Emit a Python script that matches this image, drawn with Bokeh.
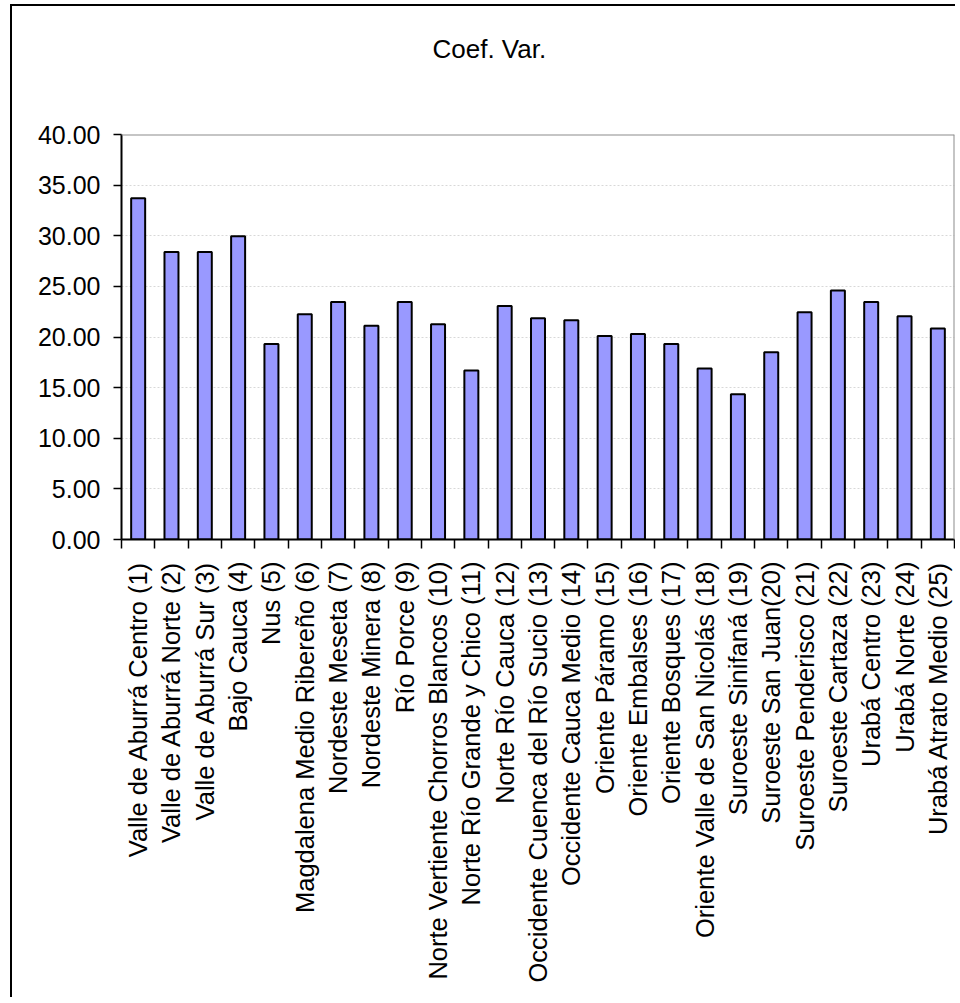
import math
from bokeh.plotting import figure
from bokeh.models import (Range1d, FixedTicker, PrintfTickFormatter, Span, Title,
                          ColumnDataSource)
from bokeh.embed import file_html
from bokeh.resources import INLINE

regions = [
    "Valle de Aburrá Centro (1)", "Valle de Aburrá Norte (2)", "Valle de Aburrá Sur (3)",
    "Bajo Cauca (4)", "Nus (5)", "Magdalena Medio Ribereño (6)", "Nordeste Meseta (7)",
    "Nordeste Minera (8)", "Río Porce (9)", "Norte Vertiente Chorros Blancos (10)",
    "Norte Río Grande y Chico (11)", "Norte Río Cauca (12)",
    "Occidente Cuenca del Río Sucio (13)", "Occidente Cauca Medio (14)",
    "Oriente Páramo (15)", "Oriente Embalses (16)", "Oriente Bosques (17)",
    "Oriente Valle de San Nicolás (18)", "Suroeste Sinifaná (19)", "Suroeste San Juan(20)",
    "Suroeste Penderisco (21)", "Suroeste Cartaza (22)", "Urabá Centro (23)",
    "Urabá Norte (24)", "Urabá Atrato Medio (25)",
]
coef_var = [33.7, 28.4, 28.4, 29.95, 19.3, 22.25, 23.45, 21.1, 23.45, 21.25,
            16.7, 23.05, 21.85, 21.65, 20.1, 20.3, 19.3, 16.9, 14.35, 18.5,
            22.45, 24.6, 23.45, 22.05, 20.85]
y_ticks = [0, 5, 10, 15, 20, 25, 30, 35, 40]
title_text = "Coef. Var."

FONT = "Liberation Sans"
n = len(regions)
idx = list(range(n))
src = ColumnDataSource(dict(x=idx, top=coef_var))

p = figure(frame_width=833, frame_height=405,
           x_range=Range1d(-0.5, n - 0.5), y_range=Range1d(y_ticks[0], y_ticks[-1]),
           output_backend="svg", toolbar_location=None,
           min_border_left=109, min_border_right=1, min_border_top=128,
           min_border_bottom=458)
p.styles = {"margin-left": "10px", "margin-top": "4px",
            "border-left": "2px solid black", "border-top": "2px solid black"}
p.outline_line_color = None
p.background_fill_color = "white"
p.border_fill_color = "white"

# blank spacer panel between the plot area and the title
p.add_layout(Title(text=" ", text_font_size="10px", standoff=58), "above")
p.add_layout(Title(text=title_text, align="left", offset=311, standoff=0,
                   text_font_size="26px", text_font=FONT, text_font_style="normal",
                   text_color="black"), "above")

p.vbar(x="x", top="top", width=0.42, source=src, fill_color="#9999ff",
       line_color="black", line_width=2)

# plot-area border (gray, top and right)
p.add_layout(Span(location=y_ticks[-1], dimension="width", line_color="#8c8c8c", line_width=2))
p.add_layout(Span(location=n - 0.5, dimension="height", line_color="#8c8c8c", line_width=2))

p.xgrid.visible = False
p.ygrid.ticker = FixedTicker(ticks=y_ticks)
p.ygrid.grid_line_color = "#d8d8d8"
p.ygrid.grid_line_dash = "2 2"
p.ygrid.grid_line_width = 1

ya = p.yaxis[0]
ya.ticker = FixedTicker(ticks=y_ticks)
ya.formatter = PrintfTickFormatter(format="%.2f")
ya.major_tick_out = 8
ya.major_tick_in = 0
ya.minor_tick_line_color = None
ya.axis_line_width = 2
ya.axis_line_color = "black"
ya.major_tick_line_color = "black"
ya.major_tick_line_width = 1.5
ya.major_label_text_font = FONT
ya.major_label_text_font_size = "25px"
ya.major_label_text_color = "black"
ya.major_label_standoff = 13

xa = p.xaxis[0]
xa.ticker = FixedTicker(ticks=idx, minor_ticks=[i - 0.5 for i in range(n + 1)])
xa.major_label_overrides = {i: regions[i] for i in idx}
xa.major_label_orientation = math.pi / 2
xa.major_tick_line_color = None
xa.major_tick_out = 9
xa.major_tick_in = 0
xa.minor_tick_out = 9
xa.minor_tick_in = 0
xa.minor_tick_line_color = "black"
xa.minor_tick_line_width = 1.5
xa.axis_line_width = 2
xa.axis_line_color = "black"
xa.major_label_text_font = FONT
xa.major_label_text_font_size = "25.5px"
xa.major_label_text_color = "black"
xa.major_label_standoff = 13

open("out.html", "w").write(file_html(p, INLINE))
